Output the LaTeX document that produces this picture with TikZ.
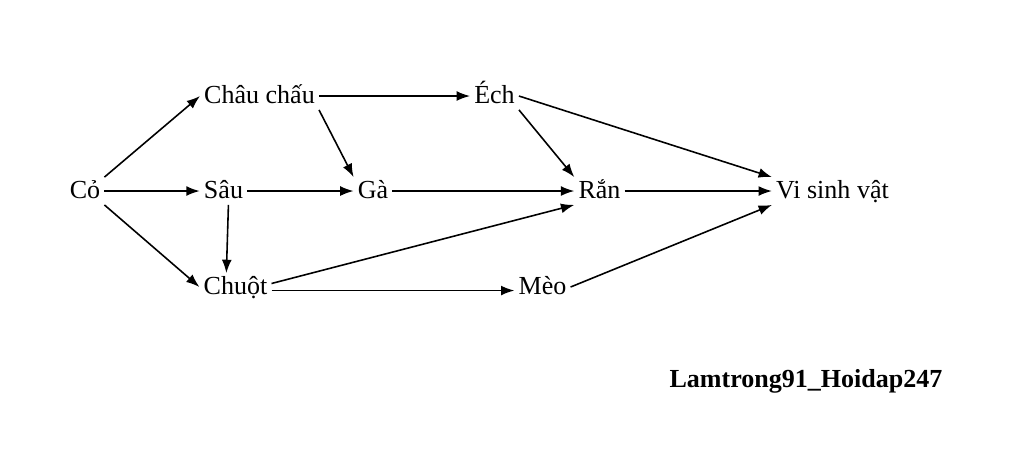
\documentclass[tikz,border=0pt]{standalone}
\usepackage{fontspec}
\setmainfont{Liberation Serif}
\usetikzlibrary{arrows.meta}
\begin{document}
\begin{tikzpicture}[x=0.01cm,y=-0.01cm,
  every node/.style={font=\fontsize{7.4}{9}\selectfont,inner sep=1pt,text height=5pt,text depth=0.5pt},
  arr/.style={-{Latex[length=3.8pt,width=2.8pt]},line width=0.45pt}]
  \useasboundingbox (0,0) rectangle (1024,450);
  \node (co) at (85,191) {Cỏ};
  \node (chau) at (259.5,96) {Châu chấu};
  \node (sau) at (223.5,191) {Sâu};
  \node (chuot) at (235.5,287) {Chuột};
  \node (ga) at (373,191) {Gà};
  \node (ech) at (494.5,96) {Éch};
  \node (ran) at (599.5,191) {Rắn};
  \node (meo) at (542.5,287) {Mèo};
  \node (vsv) at (832.5,191) {Vi sinh vật};
  \node[font=\fontsize{7.4}{9}\selectfont\bfseries] (tac) at (806,380) {Lamtrong91\_Hoidap247};
  \draw[arr] (co.north east) -- (chau.west);
  \draw[arr] (co.east) -- (sau.west);
  \draw[arr] (co.south east) -- (chuot.west);
  \draw[arr] (chau.east) -- (ech.west);
  \draw[arr] (chau.south east) -- (ga.north west);
  \draw[arr] (sau.east) -- (ga.west);
  \draw[arr] ([xshift=1.4pt]sau.south) -- ([xshift=-2.6pt]chuot.north);
  \draw[arr] (ga.east) -- (ran.west);
  \draw[arr] ([yshift=1pt]chuot.east) -- (ran.south west);
  \draw[arr] ([yshift=-1pt]chuot.east) -- ([yshift=-1pt]meo.west);
  \draw[arr] (ech.south east) -- (ran.north west);
  \draw[arr] (ech.east) -- (vsv.north west);
  \draw[arr] (ran.east) -- (vsv.west);
  \draw[arr] (meo.east) -- (vsv.south west);
\end{tikzpicture}
\end{document}
